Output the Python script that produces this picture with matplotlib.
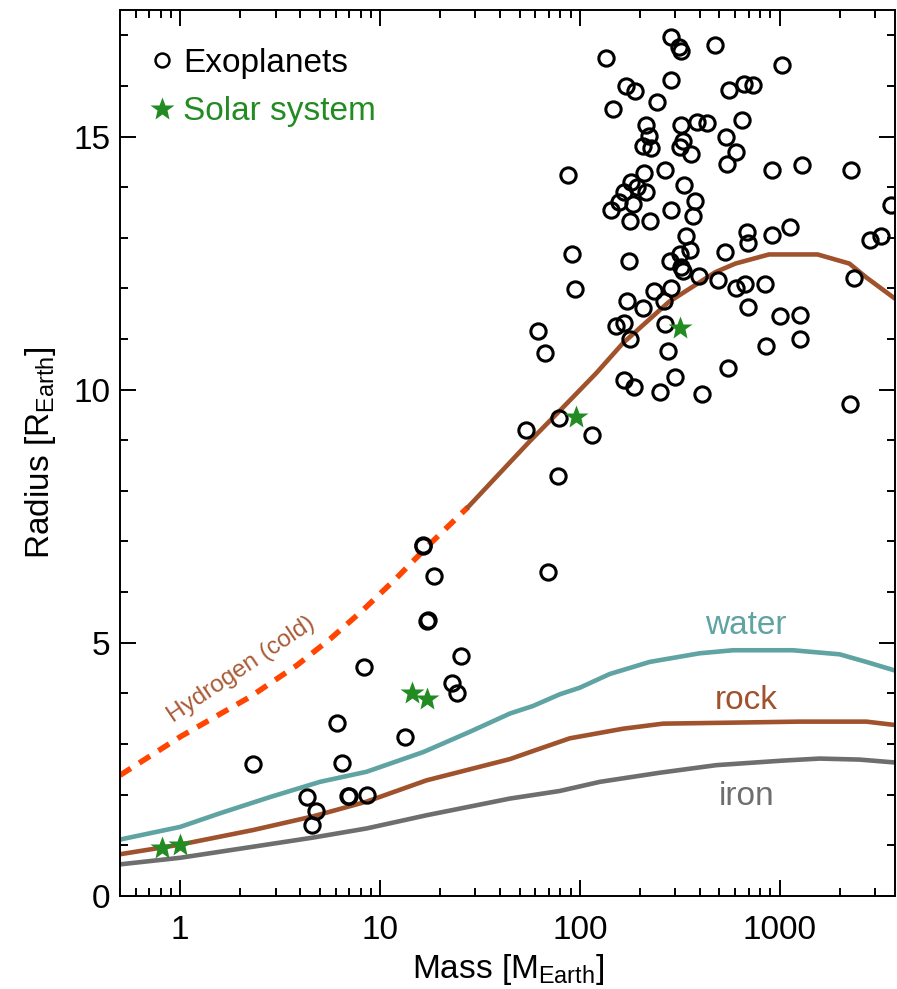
import numpy as np
import matplotlib.pyplot as plt
from matplotlib.lines import Line2D
from matplotlib.ticker import LogLocator, NullFormatter, MultipleLocator

plt.rcParams['font.family'] = ['Liberation Sans', 'DejaVu Sans']
plt.rcParams['mathtext.fontset'] = 'custom'
plt.rcParams['mathtext.rm'] = 'Liberation Sans'
plt.rcParams['mathtext.it'] = 'Liberation Sans:italic'

# Exoplanetas (masa [M_tierra], radio [R_tierra])
exo_masa = [287.4, 312.6, 322.5, 473.2, 136.0, 1031.6, 287.4, 169.8, 188.4, 244.6,
            146.7, 557.8, 663.1, 735.5, 213.8, 222.1, 207.2, 226.5, 322.5, 328.5,
            316.2, 358.9, 385.9, 433.0, 651.0, 537.0, 602.6, 547.6, 919.4, 1298.9,
            2283.0, 87.4, 208.9, 267.0, 181.3, 193.4, 166.6, 215.6, 157.2, 184.7,
            144.0, 177.8, 225.7, 287.4, 331.1, 375.8, 368.5, 341.6, 686.4, 694.4,
            919.4, 1122.0, 2818.0, 3225.0, 3619.0,
            91.9, 175.8, 284.1, 316.2, 357.6, 530.9, 94.4, 322.5, 328.5, 394.9,
            491.6, 602.6, 673.9, 848.3, 2352.0, 171.3, 234.4, 287.4, 263.0, 207.2,
            61.9, 66.8, 152.6, 166.6, 177.8, 268.2, 276.4, 697.6, 1000.0, 1259.0,
            858.1, 1269.0, 166.0, 186.2, 253.2, 300.9, 408.8, 551.4, 2239.0, 54.1,
            78.8, 115.7, 77.9,
            16.35, 16.5, 18.62, 68.96, 17.12, 17.3, 25.41, 22.83, 24.17, 13.34,
            8.35, 6.07, 2.31, 6.43, 4.30, 4.79, 4.56, 6.89, 7.0, 8.58]
exo_radio = [16.96, 16.76, 16.68, 16.81, 16.55, 16.41, 16.12, 15.99, 15.89, 15.69,
             15.55, 15.92, 16.04, 16.02, 15.23, 15.02, 14.81, 14.78, 15.23, 14.92,
             14.79, 14.66, 15.28, 15.26, 15.33, 15.00, 14.69, 14.45, 14.33, 14.44,
             14.34, 14.23, 14.27, 14.34, 14.11, 14.01, 13.90, 13.90, 13.70, 13.67,
             13.54, 13.33, 13.33, 13.55, 14.05, 13.72, 13.43, 13.03, 13.12, 12.89,
             13.06, 13.21, 12.96, 13.04, 13.64,
             12.67, 12.55, 12.54, 12.67, 12.75, 12.71, 11.98, 12.42, 12.34, 12.24,
             12.17, 12.00, 12.09, 12.09, 12.21, 11.76, 11.94, 12.01, 11.76, 11.62,
             11.15, 10.73, 11.25, 11.31, 11.00, 11.29, 10.77, 11.63, 11.45, 11.47,
             10.86, 10.99, 10.18, 10.06, 9.96, 10.25, 9.91, 10.42, 9.71, 9.21,
             9.43, 9.11, 8.29,
             6.90, 6.92, 6.32, 6.39, 5.43, 5.45, 4.73, 4.21, 4.00, 3.14,
             4.51, 3.42, 2.61, 2.63, 1.95, 1.67, 1.40, 1.97, 1.97, 1.99]

# Sistema solar: Venus, Tierra, Urano, Neptuno, Saturno, Jupiter
sol_masa = [0.815, 1.0, 14.5, 17.1, 95.2, 317.8]
sol_radio = [0.95, 1.0, 4.01, 3.88, 9.45, 11.21]

# Curvas masa-radio
h_frio_masa = [0.5, 1.0, 2.24, 3.83, 5.62, 8.25, 12.12, 17.78, 27.6]
h_frio_radio = [2.38, 3.14, 3.93, 4.55, 5.07, 5.65, 6.28, 6.95, 7.68]
h_masa = [27.6, 38.3, 56.2, 82.5, 121.2, 164.6, 278.6, 477.0, 601.0, 885.0, 1549.0,
          2234.0, 2706.0, 3985.0]
h_radio = [7.68, 8.28, 8.98, 9.65, 10.33, 10.92, 11.73, 12.32, 12.49, 12.67, 12.67,
           12.49, 12.22, 11.73]

agua_masa = [0.5, 1.0, 1.585, 2.82, 5.01, 8.58, 16.5, 28.2, 44.7, 58.4, 79.4, 100, 141, 224,
             398, 584, 1165, 1995, 2714, 3846]
agua_radio = [1.11, 1.36, 1.63, 1.95, 2.25, 2.45, 2.84, 3.24, 3.60, 3.75, 3.98, 4.11, 4.38,
              4.62, 4.79, 4.85, 4.85, 4.77, 4.62, 4.44]

roca_masa = [0.5, 1.0, 2.33, 4.64, 8.58, 17.1, 44.7, 58.4, 89.1, 164.6, 261, 584, 1259, 2714, 3846]
roca_radio = [0.82, 1.01, 1.30, 1.57, 1.86, 2.28, 2.70, 2.86, 3.11, 3.30, 3.40, 3.42, 3.44, 3.44, 3.37]

hierro_masa = [0.5, 1.0, 2.33, 4.64, 8.58, 17.1, 44.7, 79.4, 126, 251, 482, 1039, 1585, 2512, 3846]
hierro_radio = [0.62, 0.75, 0.97, 1.15, 1.33, 1.59, 1.92, 2.07, 2.25, 2.43, 2.58, 2.67, 2.71, 2.69, 2.63]

verde = '#228B22'
siena = '#A0522D'
azul = '#5FA3A3'
gris = '#6E6E6E'

fig = plt.figure(figsize=(8.97, 9.89), dpi=100)
ax = fig.add_axes([0.1338, 0.0943, 0.8645, 0.8956])

ax.plot(h_frio_masa, h_frio_radio, color='#FF4500', lw=4, dashes=(2.3, 1.8))
ax.plot(h_masa, h_radio, color=siena, lw=3.3)
ax.plot(agua_masa, agua_radio, color=azul, lw=3.3)
ax.plot(roca_masa, roca_radio, color=siena, lw=3.3)
ax.plot(hierro_masa, hierro_radio, color=gris, lw=3.3)

ax.plot(exo_masa, exo_radio, 'o', mfc='none', mec='black', ms=11, mew=2.2, ls='none')
ax.plot(sol_masa, sol_radio, '*', color=verde, mec='none', ms=18, ls='none')

ax.text(2.03, 4.46, 'Hydrogen (cold)', color='#A85A35', fontsize=17.5, rotation=34,
        rotation_mode='anchor', ha='center', va='center')
ax.text(680, 5.18, 'water', color=azul, fontsize=24, ha='center', va='baseline')
ax.text(680, 3.68, 'rock', color=siena, fontsize=24, ha='center', va='baseline')
ax.text(680, 1.79, 'iron', color=gris, fontsize=24, ha='center', va='baseline')

ax.set_xscale('log')
ax.set_xlim(0.5, 3800)
ax.set_ylim(0, 17.5)
ax.set_xticks([1, 10, 100, 1000])
ax.set_xticklabels(['1', '10', '100', '1000'])
ax.xaxis.set_minor_locator(LogLocator(base=10, subs=np.arange(2, 10)))
ax.xaxis.set_minor_formatter(NullFormatter())
ax.yaxis.set_major_locator(MultipleLocator(5))
ax.yaxis.set_minor_locator(MultipleLocator(1))

ax.tick_params(which='both', direction='in', top=True, right=True, width=1.4)
ax.tick_params(which='major', length=11.5, labelsize=24)
ax.tick_params(which='minor', length=5.5)
ax.tick_params(axis='x', which='major', pad=14)
ax.tick_params(axis='y', which='major', pad=7)
for s in ax.spines.values():
    s.set_linewidth(1.4)

ax.set_xlabel(r'Mass [M$_{\rm Earth}$]', fontsize=24, labelpad=4)
ax.set_ylabel(r'Radius [R$_{\rm Earth}$]', fontsize=24, labelpad=11)

handles = [Line2D([], [], marker='o', mfc='none', mec='black', ms=10, mew=1.8, ls='none',
                  label='Exoplanets'),
           Line2D([], [], marker='*', color=verde, mec='none', ms=18, ls='none',
                  label='Solar system')]
leg = ax.legend(handles=handles, loc='upper left', bbox_to_anchor=(0.041, 0.957),
                frameon=False, fontsize=24, handlelength=0.6, handletextpad=0.33,
                labelspacing=0.52, borderpad=0, borderaxespad=0)
for t, c in zip(leg.get_texts(), ['black', verde]):
    t.set_color(c)

fig.savefig('out.png', dpi=100)
